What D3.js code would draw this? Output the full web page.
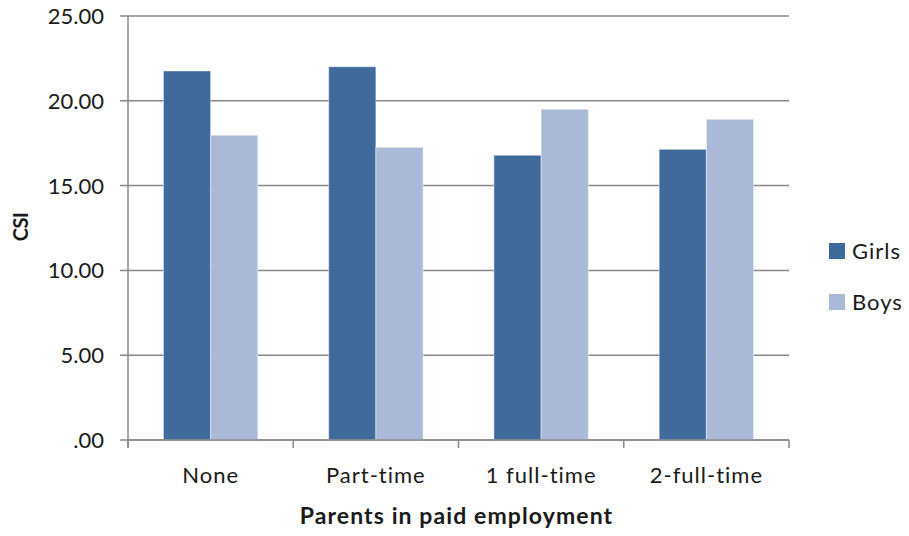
<!DOCTYPE html>
<html>
<head>
<meta charset="utf-8">
<script src="https://cdnjs.cloudflare.com/ajax/libs/d3/7.8.5/d3.min.js"></script>
<style>
  body { margin: 0; background: #fff; }
  text { font-family: Lato, "Open Sans", sans-serif; fill: #1a1a1a; }
</style>
</head>
<body>
<div id="chart"></div>
<script>
var categories = ['None', 'Part-time', '1 full-time', '2-full-time'];
var seriesNames = ['Girls', 'Boys'];
var girls = [21.76, 22.01, 16.79, 17.14];
var boys = [17.97, 17.26, 19.50, 18.91];
var yTicks = [0, 5, 10, 15, 20, 25];
var colors = ['#406a9b', '#aab9d7'];

var width = 909, height = 536;
// plot area edges (window.top is reserved, so prefixed names)
var plotLeft = 128, plotRight = 789, plotTop = 16, plotBottom = 440;

var svg = d3.select('#chart').append('svg')
    .attr('width', width).attr('height', height);

var x0 = d3.scaleBand().domain(categories).range([plotLeft, plotRight]).padding(0);
var x1 = d3.scaleBand().domain(seriesNames).range([0, x0.bandwidth()])
    .paddingInner(0).paddingOuter(0.75);
var y = d3.scaleLinear().domain([0, 25]).range([plotBottom, plotTop]);

// gridlines
svg.append('g').selectAll('line').data(yTicks).enter().append('line')
    .attr('x1', plotLeft - 8).attr('x2', plotRight)
    .attr('y1', function(d) { return y(d); })
    .attr('y2', function(d) { return y(d); })
    .style('stroke', '#8a8a8a').style('stroke-width', 1.5);

// y labels
svg.append('g').selectAll('text').data(yTicks).enter().append('text')
    .attr('x', 104).attr('y', function(d) { return y(d); })
    .attr('dy', '0.36em').attr('text-anchor', 'end')
    .style('font-size', '22px')
    .text(function(d) { return d === 0 ? '.00' : d.toFixed(2); });

// bars
var data = categories.map(function(c, i) {
    return { cat: c, values: [{ s: 'Girls', v: girls[i] }, { s: 'Boys', v: boys[i] }] };
});

var groups = svg.append('g').selectAll('g').data(data).enter().append('g')
    .attr('transform', function(d) { return 'translate(' + x0(d.cat) + ',0)'; });

groups.selectAll('rect').data(function(d) { return d.values; }).enter().append('rect')
    .attr('x', function(d) { return x1(d.s); })
    .attr('width', x1.bandwidth())
    .attr('y', function(d) { return y(d.v); })
    .attr('height', function(d) { return plotBottom - y(d.v); })
    .style('fill', function(d, i) { return colors[i]; })
    .style('stroke', 'rgba(255,255,255,0.45)').style('stroke-width', 1);

// axes lines
svg.append('line').attr('x1', plotLeft).attr('x2', plotLeft).attr('y1', plotTop).attr('y2', plotBottom + 8)
    .style('stroke', '#8a8a8a').style('stroke-width', 1.5);
svg.append('line').attr('x1', plotLeft).attr('x2', plotRight).attr('y1', plotBottom).attr('y2', plotBottom)
    .style('stroke', '#8a8a8a').style('stroke-width', 1.5);

var catEdges = categories.map(function(c) { return x0(c); }).concat([plotRight]);
svg.append('g').selectAll('line').data(catEdges).enter().append('line')
    .attr('x1', function(d) { return d; }).attr('x2', function(d) { return d; })
    .attr('y1', plotBottom).attr('y2', plotBottom + 8)
    .style('stroke', '#8a8a8a').style('stroke-width', 1.5);

// category labels
svg.append('g').selectAll('text').data(categories).enter().append('text')
    .attr('x', function(d) { return x0(d) + x0.bandwidth() / 2; })
    .attr('y', 483).attr('text-anchor', 'middle')
    .style('font-size', '22px').style('letter-spacing', '1px')
    .text(function(d) { return d; });

// axis titles
svg.append('text').attr('x', (plotLeft + plotRight) / 2 - 2).attr('y', 524)
    .attr('text-anchor', 'middle').style('font-size', '23px').style('font-weight', 'bold')
    .style('letter-spacing', '1.1px')
    .text('Parents in paid employment');

svg.append('text').attr('transform', 'translate(28,227) rotate(-90)')
    .attr('text-anchor', 'middle').style('font-size', '20px').style('font-weight', 'bold')
    .style('letter-spacing', '-0.5px')
    .text('CSI');

// legend
var legend = svg.append('g').selectAll('g').data(seriesNames).enter().append('g')
    .attr('transform', function(d, i) { return 'translate(829,' + (243 + i * 51) + ')'; });
legend.append('rect').attr('width', 16).attr('height', 16)
    .style('fill', function(d, i) { return colors[i]; });
legend.append('text').attr('x', 23).attr('y', 8).attr('dy', '0.36em')
    .style('font-size', '22px').style('letter-spacing', '1px')
    .text(function(d) { return d; });
</script>
</body>
</html>
